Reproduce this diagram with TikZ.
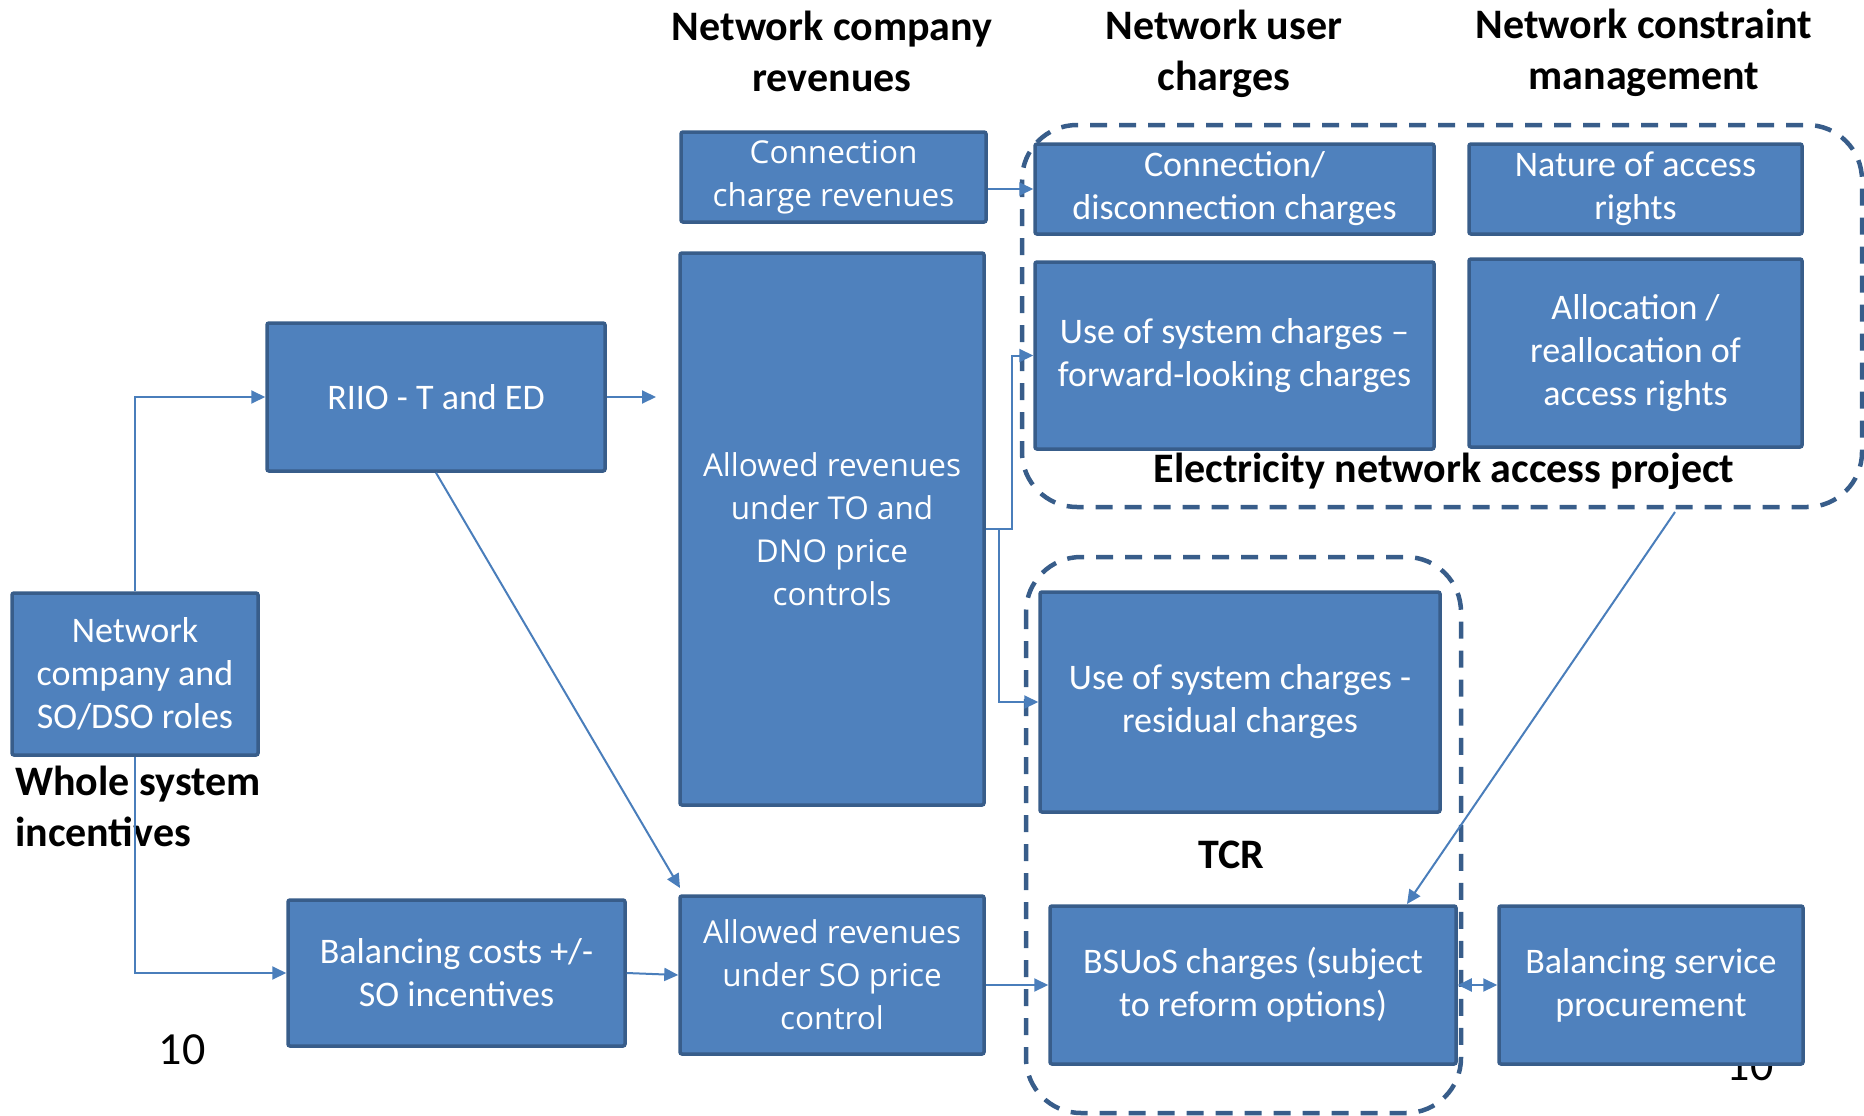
\documentclass[tikz,border=0pt]{standalone}
\usepackage{fontspec}
\setmainfont{Carlito}
\newfontfamily\segoe{Open Sans}
\usetikzlibrary{arrows.meta,calc}
\definecolor{boxfill}{HTML}{4F81BD}
\definecolor{boxline}{HTML}{385D8A}
\definecolor{connc}{HTML}{4A7EBB}
\newcommand{\mkbox}[7]{\node[#2, minimum width={#5-#3}, minimum height={#6-#4}] (#1) at ({(#3+#5)/2},{(#4+#6)/2}) {#7};}
\begin{document}
\begin{tikzpicture}[x=1pt,y=-1pt,
  box/.style={draw=boxline, fill=boxfill, line width=3.5pt, rounded corners=2pt, text=white, align=center, font=\fontsize{36}{43}\selectfont, inner sep=0pt},
  sbox/.style={box, font=\segoe\fontsize{31.5}{43}\selectfont},
  conn/.style={draw=connc, line width=2pt, -{Triangle[length=14pt,width=13pt]}},
  grp/.style={draw=boxline, line width=4.5pt, dash pattern=on 17pt off 12pt, rounded corners=55pt},
  head/.style={font=\bfseries\fontsize{42}{51}\selectfont, align=center, text=black, inner sep=0pt},
  lab/.style={font=\bfseries\fontsize{42}{50}\selectfont, align=center, text=black, inner sep=0pt},
  num/.style={font=\fontsize{46}{50}\selectfont, text=black, inner sep=0pt},
]
\useasboundingbox (0,0) rectangle (1864,1116);

% headers
\node[head] (h1) at (832,51) {Network company\\revenues};
\node[head] (h2) at (1224,54) {Network user\\charges};
\node[head] (h3) at (1644,53) {Network constraint\\management};

% page numbers (behind boxes)
\node[num] (n1) at (182,1050) {10};
\node[num] (n2) at (1750,1066) {10};

% boxes
\mkbox{ccr}{sbox}{681}{132}{986}{222}{Connection\\charge revenues}
\mkbox{artd}{sbox}{680}{253}{984}{805}{Allowed revenues\\under TO and\\DNO price\\controls}
\mkbox{riio}{box}{267}{323}{605}{471}{RIIO - T and ED}
\mkbox{nco}{box}{12}{593}{258}{755}{Network\\company and\\SO/DSO roles}
\mkbox{bal}{box}{288}{900}{625}{1046}{Balancing costs +/-\\SO incentives}
\mkbox{arso}{sbox}{680}{896}{984}{1054}{Allowed revenues\\under SO price\\control}
\mkbox{cdc}{box}{1035}{144}{1434}{234}{Connection/\\disconnection charges}
\mkbox{nar}{box}{1469}{144}{1802}{234}{Nature of access\\rights}
\mkbox{uosf}{box}{1035}{262}{1434}{449}{Use of system charges --\\forward-looking charges}
\mkbox{alloc}{box}{1469}{259}{1802}{447}{Allocation /\\reallocation of\\access rights}
\mkbox{uosr}{box}{1040}{592}{1440}{812}{Use of system charges -\\residual charges}
\mkbox{bsuos}{box}{1050}{906}{1456}{1064}{BSUoS charges (subject\\to reform options)}
\mkbox{bsp}{box}{1499}{906}{1803}{1064}{Balancing service\\procurement}

% labels
\node[head, align=left, anchor=west] (ws) at (15,806) {Whole system\\incentives};
\node[lab] (ena) at (1444,471) {Electricity network access project};
\node[lab] (tcr) at (1231,855) {TCR};

% group containers
\draw[grp] (1022,125) rectangle (1862,507);
\draw[grp] (1026,557) rectangle (1461,1113);

% connectors
\coordinate (riioend) at (656,397);
\coordinate (arsotip) at (680,888);
\coordinate (enaout) at (1675,512);
\coordinate (bstop) at (1407,904);
\draw[conn] (nco.north) |- (riio.west);
\draw[conn] (nco.south) |- (bal.west);
\draw[conn] (riio.east) -- (riioend);
\draw[conn] (riio.south) -- (arsotip);
\draw[conn] (bal.east) -- (arso.west);
\draw[conn] (arso.east |- bsuos.west) -- (bsuos.west);
\draw[conn] (ccr.east |- cdc.west) -- (cdc.west);
\draw[conn] (artd.east) -- ++(26,0) |- (uosf.west);
\draw[conn] ($(artd.east)+(13,0)$) |- (uosr.west);
\draw[conn] (enaout) -- (bstop);
\draw[conn, {Triangle[length=14pt,width=13pt]}-{Triangle[length=14pt,width=13pt]}] (bsuos.east) -- (bsp.west);
\end{tikzpicture}
\end{document}
